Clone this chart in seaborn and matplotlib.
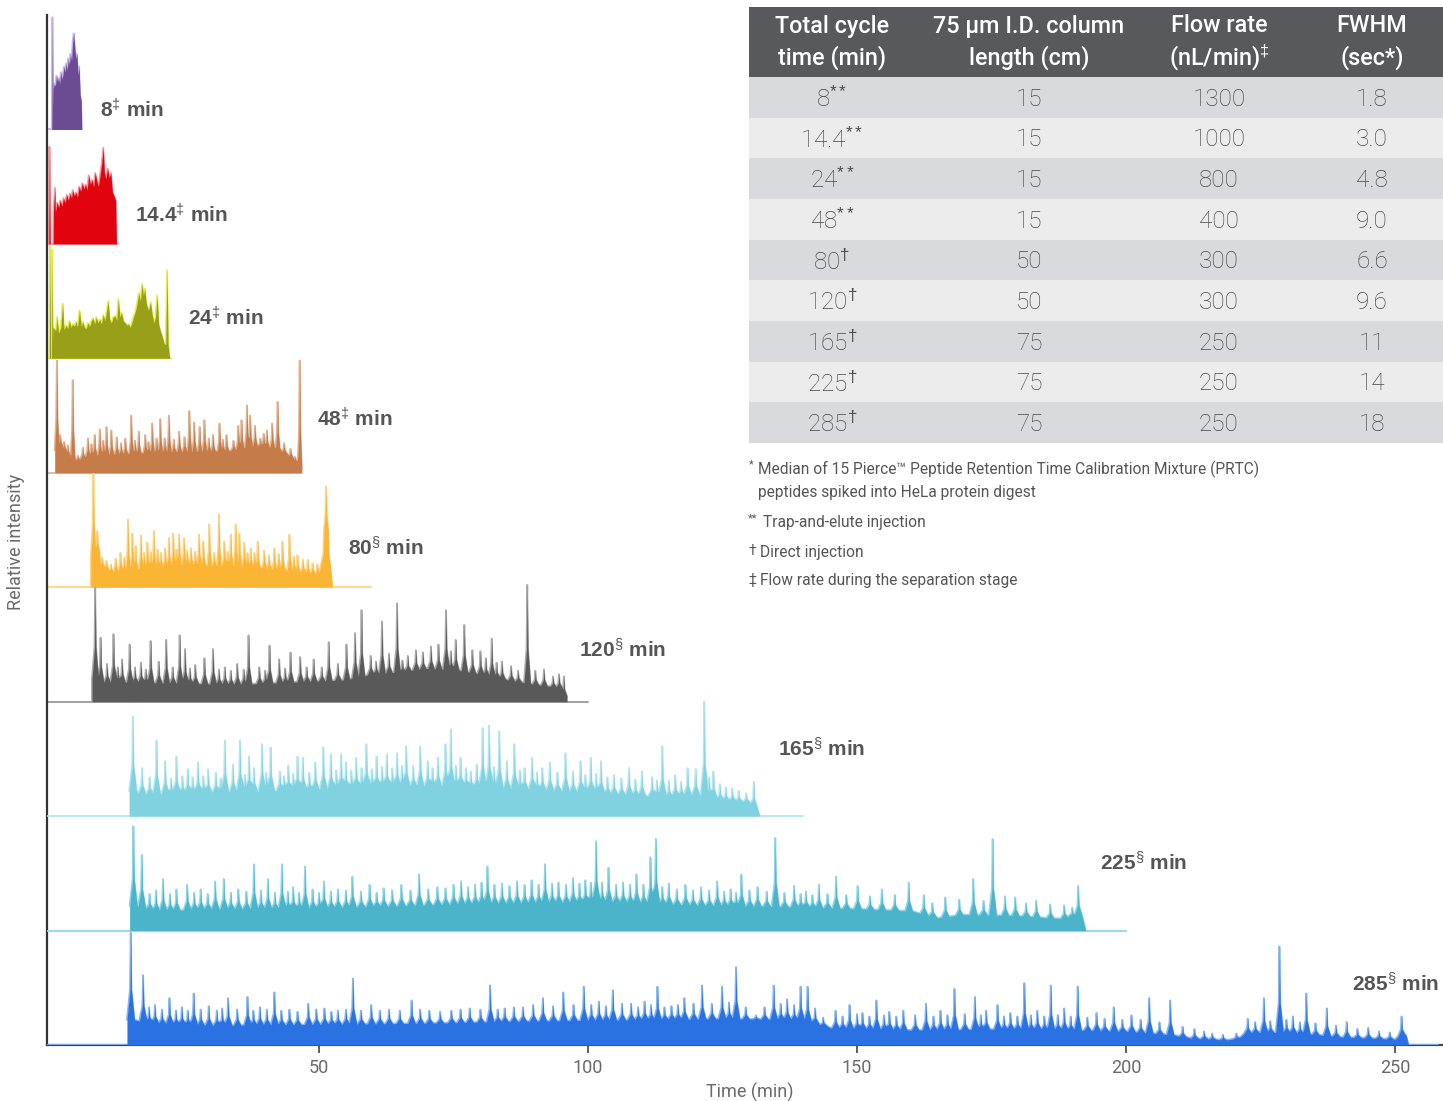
import numpy as np
import matplotlib
matplotlib.use("Agg")
import matplotlib.pyplot as plt
import seaborn as sns
from matplotlib.patches import Rectangle

# ---- chromatogram data ----
# time in min, height as a fraction of one lane
env_8 = [(0.55, 0), (0.6, 0.36), (0.8, 0.40), (1.0, 0.38), (1.2, 0.47), (1.4, 0.42), (1.6, 0.45),
         (1.8, 0.40), (2.0, 0.50), (2.2, 0.44), (2.4, 0.48), (2.6, 0.55), (2.8, 0.50), (3.0, 0.58),
         (3.2, 0.52), (3.4, 0.62), (3.6, 0.57), (3.8, 0.66), (4.0, 0.60), (4.2, 0.76), (4.4, 0.84),
         (4.6, 0.72), (4.8, 0.62), (5.0, 0.66), (5.2, 0.48), (5.4, 0.55), (5.6, 0.30), (5.8, 0.25),
         (5.9, 0)]
peaks_8 = [(0.45, 0.98)]

env_14 = [(0.6, 0), (0.65, 0.30), (0.9, 0.49), (1.0, 0.28), (1.3, 0.36), (1.6, 0.32), (1.9, 0.38),
          (2.2, 0.33), (2.5, 0.40), (2.8, 0.36), (3.1, 0.43), (3.4, 0.38), (3.7, 0.44), (4.0, 0.40),
          (4.2, 0.47), (4.5, 0.42), (4.8, 0.45), (5.1, 0.41), (5.4, 0.50), (5.7, 0.46), (6.0, 0.53),
          (6.3, 0.48), (6.6, 0.52), (6.9, 0.47), (7.2, 0.60), (7.5, 0.52), (7.8, 0.56), (8.1, 0.50),
          (8.4, 0.62), (8.7, 0.55), (9.0, 0.50), (9.3, 0.60), (9.6, 0.70), (9.9, 0.84), (10.1, 0.62),
          (10.4, 0.57), (10.7, 0.66), (11.0, 0.58), (11.3, 0.62), (11.6, 0.45), (11.9, 0.42),
          (12.2, 0.38), (12.35, 0)]
peaks_14 = [(-0.1, 0.85)]

env_24 = [(0.5, 0), (0.55, 0.27), (1.08, 0.24), (1.3, 0.36), (1.6, 0.22), (2.0, 0.27), (2.34, 0.48),
          (2.6, 0.25), (2.97, 0.29), (3.3, 0.26), (3.6, 0.33), (3.9, 0.27), (4.2, 0.30), (4.5, 0.28),
          (4.85, 0.32), (5.1, 0.27), (5.48, 0.42), (5.8, 0.28), (6.1, 0.32), (6.4, 0.27), (6.73, 0.26),
          (7.0, 0.31), (7.36, 0.28), (7.7, 0.33), (7.99, 0.35), (8.3, 0.30), (8.6, 0.36), (8.9, 0.31),
          (9.24, 0.34), (9.55, 0.30), (9.87, 0.38), (10.2, 0.33), (10.5, 0.41), (10.8, 0.50),
          (11.1, 0.34), (11.4, 0.31), (11.75, 0.36), (12.1, 0.37), (12.4, 0.33), (12.7, 0.52),
          (13.0, 0.36), (13.3, 0.40), (13.6, 0.33), (13.96, 0.31), (14.3, 0.29), (14.6, 0.30),
          (14.9, 0.27), (15.2, 0.31), (15.5, 0.36), (15.8, 0.40), (16.1, 0.46), (16.5, 0.57),
          (16.8, 0.50), (17.1, 0.65), (17.35, 0.55), (17.6, 0.61), (17.8, 0.52), (18.0, 0.46),
          (18.3, 0.42), (18.7, 0.49), (19.0, 0.38), (19.3, 0.31), (19.6, 0.36), (19.9, 0.55),
          (20.2, 0.30), (20.5, 0.24), (20.8, 0.20), (21.2, 0.13), (21.5, 0.12), (21.75, 0.77),
          (21.95, 0.12), (22.25, 0)]
peaks_24 = [(0.0, 0.98), (0.4, 0.95)]

env_48 = [(1.2, 0), (1.3, 0.28), (2.5, 0.20), (3.5, 0.15), (5, 0.11), (7, 0.15), (10, 0.16), (15, 0.17),
          (20, 0.18), (25, 0.19), (30, 0.19), (33, 0.19), (36, 0.22), (38, 0.24), (42, 0.22),
          (44.5, 0.15), (46.3, 0.07), (46.5, 0)]
peaks_48 = [(1.27, 0.98), (1.9, 0.33), (2.65, 0.27), (3.3, 0.24), (4.22, 0.81), (5.17, 0.15), (6.1, 0.22),
            (7.05, 0.30), (7.7, 0.25), (8.3, 0.33), (9.25, 0.38), (9.9, 0.28), (10.5, 0.40), (11.4, 0.37),
            (12.4, 0.31), (13.2, 0.26), (14.0, 0.30), (15.1, 0.50), (15.8, 0.28), (16.5, 0.36),
            (17.7, 0.33), (18.3, 0.27), (19.0, 0.43), (19.8, 0.30), (20.5, 0.47), (21.3, 0.30),
            (22.1, 0.50), (23.0, 0.29), (24.0, 0.36), (25.0, 0.31), (25.9, 0.54), (26.8, 0.44),
            (27.8, 0.40), (28.7, 0.46), (29.5, 0.30), (30.3, 0.33), (31.5, 0.43), (32.1, 0.29),
            (32.8, 0.33), (34.1, 0.28), (35.0, 0.41), (35.6, 0.46), (36.6, 0.59), (37.2, 0.50),
            (38.1, 0.41), (39.1, 0.30), (39.7, 0.34), (40.3, 0.37), (41.3, 0.43), (42.3, 0.62),
            (43.5, 0.26), (44.7, 0.21), (45.5, 0.14), (46.0, 0.11), (46.4, 0.98)]

env_80 = [(7.56, 0), (7.6, 0.28), (8.5, 0.36), (9.5, 0.19), (11, 0.14), (15, 0.16), (20, 0.18),
          (25, 0.20), (30, 0.19), (35, 0.19), (40, 0.17), (45, 0.15), (48, 0.13), (50, 0.12),
          (50.8, 0.30), (51.3, 0.50), (51.8, 0.30), (52.3, 0.10), (52.5, 0)]
peaks_80 = [(8.06, 0.99), (8.8, 0.49), (9.7, 0.26), (10.5, 0.23), (11.3, 0.20), (12.2, 0.25), (13.1, 0.30),
            (13.8, 0.26), (14.5, 0.59), (15.3, 0.47), (15.9, 0.36), (16.9, 0.45), (17.5, 0.30),
            (18.1, 0.39), (18.7, 0.31), (19.3, 0.49), (20.0, 0.33), (20.6, 0.30), (21.4, 0.34),
            (22.1, 0.43), (22.9, 0.47), (23.5, 0.33), (24.0, 0.46), (24.9, 0.43), (25.5, 0.32),
            (26.2, 0.34), (27.0, 0.31), (27.7, 0.46), (28.5, 0.40), (29.6, 0.55), (30.5, 0.30),
            (31.4, 0.64), (32.4, 0.40), (33.0, 0.31), (33.6, 0.46), (34.5, 0.55), (35.2, 0.47),
            (36.1, 0.39), (36.7, 0.30), (37.3, 0.34), (38.0, 0.30), (38.6, 0.40), (39.8, 0.32),
            (40.7, 0.28), (41.7, 0.34), (42.5, 0.29), (43.2, 0.40), (44.5, 0.46), (45.3, 0.27),
            (46.0, 0.28), (47.0, 0.24), (47.9, 0.24), (48.8, 0.21), (49.7, 0.20), (51.3, 0.88)]

env_120 = [(7.8, 0), (7.9, 0.22), (9, 0.17), (15, 0.17), (25, 0.16), (35, 0.15), (45, 0.17),
           (55, 0.19), (60, 0.24), (65, 0.26), (70, 0.29), (75, 0.28), (80, 0.24), (85, 0.19),
           (90, 0.15), (95, 0.12), (95.8, 0)]
peaks_120 = [(8.4, 1.0), (9.4, 0.56), (10.6, 0.33), (11.8, 0.59), (12.6, 0.30), (13.4, 0.37), (14.8, 0.50),
             (15.8, 0.30), (16.9, 0.34), (17.8, 0.28), (18.7, 0.53), (20.2, 0.35), (21.6, 0.54),
             (22.8, 0.30), (24.1, 0.58), (25.1, 0.46), (26.0, 0.29), (27.0, 0.32), (28.7, 0.38),
             (30.3, 0.46), (31.4, 0.28), (32.5, 0.30), (33.6, 0.27), (34.8, 0.33), (36.0, 0.28),
             (36.9, 0.58), (38.9, 0.30), (40.0, 0.27), (40.8, 0.49), (42.6, 0.37), (43.7, 0.29),
             (44.7, 0.43), (46.5, 0.39), (47.7, 0.30), (49.0, 0.37), (50.5, 0.30), (51.8, 0.52),
             (53.5, 0.33), (55.1, 0.50), (56.7, 0.60), (57.9, 0.80), (59.6, 0.40), (60.6, 0.35),
             (61.7, 0.70), (63.0, 0.42), (64.5, 0.86), (65.5, 0.36), (66.5, 0.40), (68.0, 0.45),
             (69.3, 0.43), (70.8, 0.48), (72.2, 0.50), (73.6, 0.80), (74.5, 0.44), (75.4, 0.54),
             (77.0, 0.67), (78.5, 0.45), (80.0, 0.44), (81.0, 0.38), (82.1, 0.55), (83.0, 0.34),
             (84.0, 0.35), (85.7, 0.31), (87.0, 0.27), (88.7, 1.02), (90.2, 0.27), (91.8, 0.28),
             (93.5, 0.22), (94.6, 0.24), (95.5, 0.22)]

env_165 = [(15.2, 0), (15.3, 0.22), (17, 0.19), (25, 0.20), (40, 0.22), (55, 0.24), (65, 0.26),
           (75, 0.26), (85, 0.24), (95, 0.22), (105, 0.19), (115, 0.17), (120, 0.19), (125, 0.14),
           (130, 0.12), (131.9, 0)]
peaks_165 = [(15.4, 0.87), (17.1, 0.42), (18.5, 0.34), (19.8, 0.66), (21.4, 0.48), (22.5, 0.33),
             (23.5, 0.52), (24.6, 0.35), (25.6, 0.41), (26.5, 0.34), (27.5, 0.47), (28.5, 0.35),
             (29.4, 0.41), (30.8, 0.38), (31.7, 0.33), (32.5, 0.66), (34.0, 0.45), (35.3, 0.66),
             (36.2, 0.36), (37.0, 0.52), (37.9, 0.42), (39.4, 0.63), (40.2, 0.38), (41.0, 0.60),
             (42.7, 0.39), (43.5, 0.35), (44.3, 0.44), (45.2, 0.37), (46.0, 0.52), (47.0, 0.51),
             (48.2, 0.38), (49.3, 0.47), (50.8, 0.60), (52.2, 0.54), (53.2, 0.40), (54.1, 0.54),
             (55.0, 0.47), (56.0, 0.40), (56.9, 0.51), (57.9, 0.42), (58.8, 0.63), (59.8, 0.41),
             (60.7, 0.52), (61.7, 0.43), (62.6, 0.54), (63.6, 0.42), (64.5, 0.55), (65.4, 0.44),
             (66.2, 0.61), (67.5, 0.44), (68.8, 0.61), (70.2, 0.48), (71.1, 0.42), (72.1, 0.51),
             (73.5, 0.63), (74.5, 0.76), (75.4, 0.44), (76.3, 0.51), (77.3, 0.42), (78.2, 0.39),
             (79.3, 0.45), (80.4, 0.77), (81.6, 0.79), (82.5, 0.43), (83.5, 0.74), (84.9, 0.48),
             (86.3, 0.63), (87.3, 0.40), (88.2, 0.42), (89.6, 0.51), (90.5, 0.38), (91.5, 0.42),
             (92.9, 0.47), (94.3, 0.38), (95.8, 0.55), (97.2, 0.39), (98.6, 0.48), (99.5, 0.36),
             (100.5, 0.51), (101.5, 0.37), (102.4, 0.48), (103.6, 0.34), (104.8, 0.36), (106.2, 0.33),
             (107.6, 0.42), (108.8, 0.32), (110.0, 0.39), (111.9, 0.34), (112.8, 0.31), (113.8, 0.61),
             (115.0, 0.31), (116.2, 0.36), (117.3, 0.30), (118.5, 0.42), (120.0, 0.41), (121.6, 1.0),
             (122.5, 0.34), (123.3, 0.39), (124.5, 0.28), (125.6, 0.25), (126.8, 0.24), (128.0, 0.22),
             (129.4, 0.20), (130.8, 0.30)]

env_225 = [(15.1, 0), (15.2, 0.22), (20, 0.17), (30, 0.19), (45, 0.19), (60, 0.21), (75, 0.23),
           (90, 0.24), (105, 0.25), (120, 0.22), (135, 0.21), (150, 0.19), (160, 0.17), (165, 0.11),
           (170, 0.14), (180, 0.13), (188, 0.10), (191, 0.14), (192.5, 0)]
peaks_225 = [(15.5, 0.91), (17.05, 0.66), (18.5, 0.32), (19.7, 0.35), (21.0, 0.45), (22.3, 0.32),
             (23.5, 0.36), (25.5, 0.40), (26.8, 0.33), (28.0, 0.36), (29.3, 0.32), (30.7, 0.43),
             (32.3, 0.45), (33.6, 0.33), (35.0, 0.36), (36.5, 0.34), (37.9, 0.58), (39.2, 0.35),
             (40.5, 0.45), (41.8, 0.33), (43.1, 0.58), (44.2, 0.34), (45.2, 0.38), (46.3, 0.33),
             (47.4, 0.56), (48.8, 0.36), (50.0, 0.33), (50.9, 0.43), (52.2, 0.34), (53.5, 0.36),
             (55.0, 0.35), (56.2, 0.47), (57.8, 0.34), (59.4, 0.40), (60.7, 0.33), (62.0, 0.37),
             (63.6, 0.35), (65.3, 0.40), (67.0, 0.35), (68.6, 0.49), (70.3, 0.36), (72.0, 0.38),
             (73.5, 0.37), (75.0, 0.40), (76.4, 0.43), (77.7, 0.38), (79.0, 0.40), (80.2, 0.42),
             (81.3, 0.56), (82.6, 0.40), (84.0, 0.41), (85.4, 0.39), (86.8, 0.43), (88.2, 0.40),
             (89.5, 0.44), (90.8, 0.40), (92.0, 0.58), (93.3, 0.41), (94.5, 0.42), (95.9, 0.40),
             (97.2, 0.46), (98.4, 0.41), (99.5, 0.44), (100.5, 0.42), (101.5, 0.78), (102.6, 0.42),
             (103.8, 0.55), (105.2, 0.40), (106.5, 0.42), (107.8, 0.40), (109.0, 0.49), (110.3, 0.40),
             (111.6, 0.64), (112.6, 0.80), (113.8, 0.38), (115.0, 0.41), (116.5, 0.36), (118.1, 0.40),
             (119.5, 0.35), (121.0, 0.38), (122.5, 0.35), (124.0, 0.43), (125.3, 0.34), (126.5, 0.36),
             (127.5, 0.33), (128.5, 0.49), (130.0, 0.35), (131.5, 0.38), (133.2, 0.34), (134.8, 0.81),
             (136.5, 0.33), (138.3, 0.39), (139.5, 0.32), (140.5, 0.34), (141.7, 0.31), (142.9, 0.40),
             (144.5, 0.32), (146.1, 0.47), (148.0, 0.31), (150.1, 0.39), (152.4, 0.30), (154.6, 0.36),
             (157.0, 0.31), (159.6, 0.42), (162.4, 0.31), (164.0, 0.24), (166.4, 0.29), (169.0, 0.27),
             (171.6, 0.45), (173.5, 0.26), (175.2, 0.80), (177.5, 0.30), (179.4, 0.29), (181.4, 0.24),
             (183.3, 0.26), (185.9, 0.23), (188.5, 0.22), (190.0, 0.20), (191.1, 0.39)]

env_285 = [(14.8, 0), (14.9, 0.22), (20, 0.19), (30, 0.17), (50, 0.18), (70, 0.19), (90, 0.21),
           (110, 0.22), (125, 0.23), (140, 0.22), (145, 0.15), (160, 0.13), (180, 0.14), (200, 0.12),
           (208, 0.09), (212, 0.06), (220, 0.04), (223, 0.11), (230, 0.11), (240, 0.07), (250, 0.05),
           (252, 0.09), (252.5, 0)]
peaks_285 = [(15.0, 0.98), (17.3, 0.61), (18.4, 0.33), (19.5, 0.35), (20.8, 0.31), (22.2, 0.41),
             (23.4, 0.30), (24.5, 0.33), (25.6, 0.30), (26.7, 0.45), (28.0, 0.31), (29.5, 0.34),
             (31.0, 0.30), (32.0, 0.32), (33.1, 0.41), (34.8, 0.31), (36.7, 0.42), (37.8, 0.30),
             (39.0, 0.33), (40.3, 0.31), (41.7, 0.46), (43.0, 0.30), (44.5, 0.31), (46.0, 0.29),
             (48.0, 0.36), (49.5, 0.31), (51.0, 0.32), (52.3, 0.29), (53.5, 0.30), (55.0, 0.31),
             (56.3, 0.58), (57.8, 0.30), (59.7, 0.35), (61.3, 0.30), (63.0, 0.31), (65.0, 0.30),
             (67.2, 0.39), (68.8, 0.31), (70.5, 0.30), (72.5, 0.29), (74.6, 0.30), (76.3, 0.31),
             (78.0, 0.32), (80.0, 0.31), (81.8, 0.52), (83.2, 0.31), (84.5, 0.32), (86.2, 0.33),
             (87.9, 0.33), (89.8, 0.35), (91.6, 0.41), (93.5, 0.34), (95.4, 0.46), (97.3, 0.35),
             (99.2, 0.51), (100.6, 0.35), (102.0, 0.38), (103.3, 0.34), (104.6, 0.48), (106.3, 0.36),
             (108.0, 0.36), (109.3, 0.33), (110.5, 0.38), (111.7, 0.35), (112.9, 0.51), (114.2, 0.33),
             (115.5, 0.34), (116.7, 0.35), (117.9, 0.41), (119.6, 0.36), (121.2, 0.52), (123.0, 0.36),
             (124.9, 0.51), (126.2, 0.37), (127.5, 0.68), (129.3, 0.33), (131.2, 0.26), (132.8, 0.33),
             (134.5, 0.52), (135.8, 0.36), (137.0, 0.40), (138.3, 0.35), (139.5, 0.51), (140.8, 0.51),
             (142.2, 0.32), (143.7, 0.24), (146.0, 0.30), (147.3, 0.25), (148.6, 0.35), (150.0, 0.27),
             (151.0, 0.28), (152.3, 0.25), (153.6, 0.39), (155.0, 0.26), (156.0, 0.29), (157.3, 0.25),
             (158.6, 0.30), (160.8, 0.26), (162.8, 0.36), (164.2, 0.25), (165.5, 0.30), (166.8, 0.26),
             (168.1, 0.49), (170.0, 0.27), (171.9, 0.42), (173.0, 0.26), (174.0, 0.30), (176.1, 0.35),
             (177.3, 0.25), (178.5, 0.28), (179.8, 0.25), (181.1, 0.54), (182.3, 0.26), (183.5, 0.30),
             (184.8, 0.25), (186.0, 0.52), (187.3, 0.26), (188.5, 0.32), (189.7, 0.25), (191.0, 0.51),
             (192.8, 0.24), (194.5, 0.28), (196.0, 0.23), (197.7, 0.33), (199.3, 0.22), (201.0, 0.26),
             (202.7, 0.22), (204.3, 0.41), (206.2, 0.20), (208.2, 0.39), (210.5, 0.16), (212.7, 0.14),
             (214.5, 0.12), (216.0, 0.10), (218.0, 0.09), (220.5, 0.10), (222.6, 0.23), (224.0, 0.20),
             (225.6, 0.41), (226.8, 0.21), (228.5, 0.86), (229.8, 0.22), (231.0, 0.25), (232.3, 0.20),
             (233.5, 0.45), (235.2, 0.19), (237.3, 0.32), (239.0, 0.17), (241.0, 0.20), (243.0, 0.14),
             (245.0, 0.15), (247.0, 0.12), (249.0, 0.11), (251.2, 0.25)]

cycle_labels = ["8", "14.4", "24", "48", "80", "120", "165", "225", "285"]
label_marks = ["‡", "‡", "‡", "‡", "§", "§", "§", "§", "§"]
run_end = [6.0, 12.6, 22.5, 46.6, 59.6, 100, 140, 200, 258]

# table
tab_cycle = ["8", "14.4", "24", "48", "80", "120", "165", "225", "285"]
tab_marks = ["**", "**", "**", "**", "†", "†", "†", "†", "†"]
tab_length = ["15", "15", "15", "15", "50", "50", "75", "75", "75"]
tab_flow = ["1300", "1000", "800", "400", "300", "300", "250", "250", "250"]
tab_fwhm = ["1.8", "3.0", "4.8", "9.0", "6.6", "9.6", "11", "14", "18"]

envs = [env_8, env_14, env_24, env_48, env_80, env_120, env_165, env_225, env_285]
peaks = [peaks_8, peaks_14, peaks_24, peaks_48, peaks_80, peaks_120, peaks_165, peaks_225, peaks_285]

# ---- styling ----
fills = ["#6b4c93", "#e1040f", "#98a01a", "#c57c49", "#fbb535", "#595959", "#80d2e1", "#4bb4cb", "#2a72e2"]
edges = ["#c8b4ef", "#f69aa0", "#e6ee4c", "#e0b394", "#fcd487", "#aaaaaa", "#b4e6f0", "#8fd6e8", "#84b4f2"]
label_pos = [(9.3, 8.17), (15.8, 7.25), (25.7, 6.35), (49.6, 5.47), (55.4, 4.34),
             (98.3, 3.45), (135.3, 2.59), (195.2, 1.59), (242.0, 0.53)]
skirt = [0.1, 0.1, 0.1, 0.4, 0.4, 0.6, 0.7, 0.7, 0.7]

sns.set_theme(style="white")
plt.rcParams['font.family'] = ['Liberation Sans', 'DejaVu Sans']
plt.rcParams['mathtext.fontset'] = 'custom'
plt.rcParams['mathtext.rm'] = 'Liberation Sans'
plt.rcParams['mathtext.it'] = 'Liberation Sans:italic'
plt.rcParams['mathtext.bf'] = 'Liberation Sans:bold'

W, H = 1443, 1101
fig = plt.figure(figsize=(W / 100, H / 100), dpi=100)
ax = fig.add_axes([47 / W, 1 - 1045 / H, 1 - 47 / W, (1045 - 15) / H])
ax.set_xlim(-0.56, 258.9)
ax.set_ylim(0, 9.0)


def build(env, pk, wb, wn=0.13, k=0.35):
    # outline = envelope with every peak drawn as a thin spike on a small skirt
    et = np.array([p[0] for p in env], float)
    eh = np.array([p[1] for p in env], float)
    ts = set(et.tolist())
    for t, h in pk:
        ts.update([t - wb, t - wn, t, t + wn, t + wb])
    ts = np.array(sorted(ts))
    prof = np.interp(ts, et, eh)
    for t, h in pk:
        e = np.interp(t, et, eh)
        s = e + k * (h - e)
        shape = np.interp(ts, [t - wb, t - wn, t, t + wn, t + wb], [e, s, h, s, e], left=0, right=0)
        prof = np.maximum(prof, shape)
    return ts, prof


for i in range(9):
    off = 8 - i
    kk = 0.0 if i < 3 else 0.35
    tt, hh = build(envs[i], peaks[i], skirt[i], k=kk)
    ax.plot([-0.5, run_end[i]], [off, off], color=edges[i] if i != 5 else "#999999", lw=1.3,
            zorder=2 + i * 0.1)
    sns.lineplot(x=tt, y=off + hh, color=edges[i], lw=1.3, estimator=None, sort=False,
                 legend=False, ax=ax, zorder=2 + i * 0.1)
    ax.fill_between(tt, off, off + hh, color=fills[i], lw=0, zorder=2.05 + i * 0.1)
    ax.text(label_pos[i][0], label_pos[i][1], cycle_labels[i] + r"$^{\mathrm{" + label_marks[i] + "}}$ min",
            fontsize=15, fontweight="bold", color="#555555", va="center", ha="left", zorder=10)

for s in ["top", "right"]:
    ax.spines[s].set_visible(False)
ax.spines["left"].set_color("#333333")
ax.spines["left"].set_linewidth(1.6)
ax.spines["bottom"].set_color("#444444")
ax.spines["bottom"].set_linewidth(1.6)
ax.set_yticks([])
ax.set_xticks([50, 100, 150, 200, 250])
ax.tick_params(axis="x", direction="out", length=6, width=1.2, color="#444444", labelsize=13,
               labelcolor="#6a6a6a", pad=4, bottom=True)
for lab in ax.get_xticklabels():
    lab.set_family("Roboto")
ax.set_xlabel("Time (min)", fontsize=13, color="#6a6a6a", family="Roboto")
ax.xaxis.set_label_coords((750 - 47) / (W - 47), -(1083 - 1045) / 1030)
ax.set_ylabel("Relative intensity", fontsize=13, color="#6a6a6a", family="Roboto")
ax.yaxis.set_label_coords(-(47 - 25) / (W - 47), (1045 - 542) / 1030)

# ---- table and footnotes in pixel coordinates ----
ov = fig.add_axes([0, 0, 1, 1], zorder=5)
ov.set_xlim(0, W)
ov.set_ylim(H, 0)
ov.axis("off")
ov.patch.set_alpha(0)

tx0, tx1 = 749, W
ov.add_patch(Rectangle((tx0, 7), tx1 - tx0, 70, color="#58595b", lw=0))
row_h = (443 - 77) / 9
for r in range(9):
    ov.add_patch(Rectangle((tx0, 77 + r * row_h), tx1 - tx0, row_h,
                           color="#d9dadb" if r % 2 == 0 else "#ececed", lw=0))

col_x = [832, 1029, 1219, 1372]
head1 = ["Total cycle", "75 µm I.D. column", "Flow rate", "FWHM"]
head2 = ["time (min)", "length (cm)", r"(nL/min)$^{\mathrm{‡}}$", "(sec*)"]
for c in range(4):
    ov.text(col_x[c], 26, head1[c], ha="center", va="center", color="white", fontsize=16.8,
            family="Roboto", fontweight="medium")
    ov.text(col_x[c], 58, head2[c], ha="center", va="center", color="white", fontsize=16.8,
            family="Roboto", fontweight="medium")

for r in range(9):
    y = 79 + (r + 0.5) * row_h
    vals = [tab_cycle[r] + r"$^{\mathrm{" + tab_marks[r] + "}}$", tab_length[r], tab_flow[r], tab_fwhm[r]]
    for c in range(4):
        ov.text(col_x[c], y, vals[c], ha="center", va="center", color="#4a4a4a", fontsize=17.5,
                family="Roboto", fontweight="light")

fn_font = dict(color="#555555", fontsize=11.2, family="Roboto", va="center", ha="left")
ov.text(749, 464, "*", **dict(fn_font, fontsize=8))
ov.text(758, 469, "Median of 15 Pierce™ Peptide Retention Time Calibration Mixture (PRTC)", **fn_font)
ov.text(758, 493, "peptides spiked into HeLa protein digest", **fn_font)
ov.text(748, 518, "**", **dict(fn_font, fontsize=8))
ov.text(763, 523, "Trap-and-elute injection", **fn_font)
ov.text(748, 551, "†", **dict(fn_font, fontsize=10))
ov.text(760, 552, "Direct injection", **fn_font)
ov.text(748, 580, "‡", **dict(fn_font, fontsize=10))
ov.text(760, 581, "Flow rate during the separation stage", **fn_font)

fig.savefig("out.png", dpi=100)
